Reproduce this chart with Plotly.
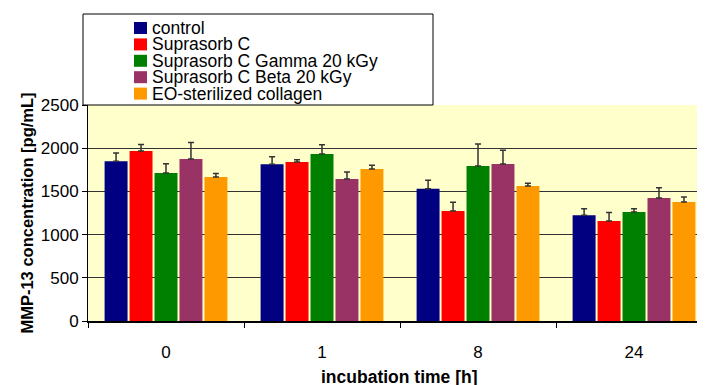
import plotly.graph_objects as go

categories = ["0", "1", "8", "24"]
series_names = ["control", "Suprasorb C", "Suprasorb C Gamma 20 kGy",
                "Suprasorb C Beta 20 kGy", "EO-sterilized collagen"]
colors = ["#000080", "#FF0000", "#008000", "#993366", "#FF9900"]

control = [1850, 1815, 1530, 1225]
suprasorb_c = [1968, 1840, 1273, 1157]
gamma = [1713, 1933, 1794, 1262]
beta = [1875, 1644, 1817, 1424]
eo = [1667, 1759, 1563, 1377]

control_err = [95, 85, 100, 73]
suprasorb_c_err = [75, 27, 100, 100]
gamma_err = [107, 107, 255, 38]
beta_err = [190, 80, 158, 119]
eo_err = [40, 43, 31, 58]

values = [control, suprasorb_c, gamma, beta, eo]
errors = [control_err, suprasorb_c_err, gamma_err, beta_err, eo_err]

y_ticks = [0, 500, 1000, 1500, 2000, 2500]

# page body has an 8px margin; the figure is sized so the plot lands where the reference has it
OFF = 8
W, H = 705 - OFF, 385 - OFF
ML, MR, MT, MB = 88 - OFF, 0, 105 - OFF, 64
PW, PH = W - ML - MR, H - MT - MB
PLOT_LEFT, PLOT_BOTTOM = 88, 321  # in reference pixels


def px_x(px):
    return (px - PLOT_LEFT) / PW


def px_y(py):
    return (PLOT_BOTTOM - py) / PH


fig = go.Figure()
for name, col, vals, errs in zip(series_names, colors, values, errors):
    fig.add_trace(go.Bar(
        x=categories, y=vals, name=name,
        marker=dict(color=col, line=dict(width=0)),
        error_y=dict(type="data", array=errs, arrayminus=[0] * len(errs),
                     symmetric=False, color="#333333", thickness=1.5, width=3),
    ))

FONT = "Liberation Sans, Arial, sans-serif"

shapes = [dict(type="rect", xref="paper", yref="paper",
               x0=px_x(83), x1=px_x(433), y0=px_y(105), y1=px_y(14),
               line=dict(color="black", width=1), fillcolor="white", layer="below")]
annotations = []
for i, (name, col) in enumerate(zip(series_names, colors)):
    yc = 28 + i * 16.4
    shapes.append(dict(type="rect", xref="paper", yref="paper",
                       x0=px_x(134), x1=px_x(147), y0=px_y(yc + 6), y1=px_y(yc - 6),
                       line=dict(width=0), fillcolor=col))
    annotations.append(dict(xref="paper", yref="paper", x=px_x(150), y=px_y(yc),
                            xanchor="left", yanchor="middle", showarrow=False,
                            text=name, font=dict(family=FONT, size=17.5, color="black")))

annotations.append(dict(xref="paper", yref="paper", x=px_x(399), y=px_y(377),
                        xanchor="center", yanchor="middle", showarrow=False,
                        text="<b>incubation time [h]</b>",
                        font=dict(family=FONT, size=17.5, color="black")))

fig.update_layout(
    width=W, height=H,
    margin=dict(l=ML, r=MR, t=MT, b=MB, pad=0),
    paper_bgcolor="white", plot_bgcolor="#FFFFCC",
    barmode="group", bargap=0.2, bargroupgap=0.08,
    showlegend=False,
    font=dict(family=FONT, size=17, color="black"),
    shapes=shapes, annotations=annotations,
    xaxis=dict(type="category", range=[-0.5, 3.455], tickson="boundaries",
               ticks="outside", ticklen=5, tickcolor="black", tickwidth=1,
               showline=True, linecolor="black", linewidth=1.5,
               showgrid=False, tickfont=dict(size=17), ticklabelstandoff=15,
               fixedrange=True),
    yaxis=dict(range=[0, 2500], tickvals=y_ticks, ticks="outside", ticklen=5,
               tickcolor="black", showline=True, linecolor="black", linewidth=1,
               showgrid=True, gridcolor="#333333", gridwidth=1, zeroline=False,
               tickfont=dict(size=17),
               title=dict(text="<b>MMP-13 concentration [pg/mL]</b>",
                          font=dict(size=16.5), standoff=2)),
)

fig.write_html("out.html")
